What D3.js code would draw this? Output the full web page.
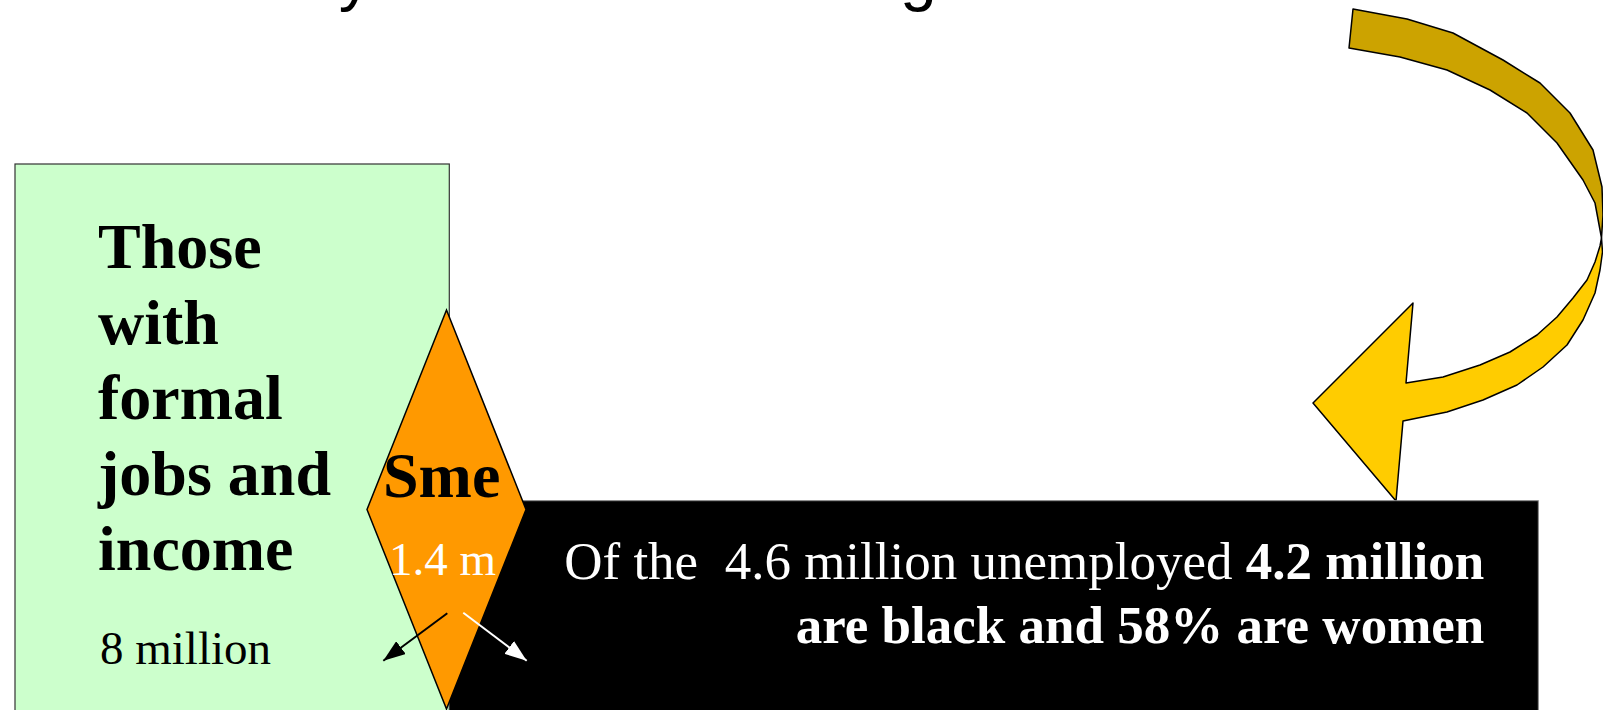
<!DOCTYPE html>
<html>
<head>
<meta charset="utf-8">
<script src="https://cdn.jsdelivr.net/npm/d3@7"></script>
<style>
  body { margin: 0; background: #fff; overflow: hidden; }
  text { white-space: pre; }
</style>
</head>
<body>
<svg width="1603" height="710"></svg>
<script>
// texts of the slide
const titleText = "Who really benefits from the growth in SA";
const formalLines = ["Those", "with", "formal", "jobs and", "income"];
const formalValue = "8 million";
const smeLabel = "Sme";
const smeValue = "1.4 m";
const unemployedLine1 = ["Of the  4.6 million unemployed ", "4.2 million"];
const unemployedLine2 = "are black and 58% are women";

// outline of the curved arrow (twisted ribbon), top half and lower half with head
const arrowTop = [
  [1353, 9], [1407, 19], [1453, 33], [1503, 60], [1540, 83], [1570, 113],
  [1593, 150], [1602, 187], [1603, 215], [1601.5, 238],
  [1595, 203], [1583, 180], [1557, 143], [1527, 113], [1490, 90],
  [1447, 70], [1400, 57], [1349, 48]
];
const arrowLow = [
  [1601.5, 238], [1602.5, 252], [1600, 270], [1595, 293], [1583, 320],
  [1567, 345], [1543, 367], [1517, 385], [1483, 400], [1447, 412],
  [1403, 421], [1396, 501], [1313, 403], [1413, 303], [1406, 383],
  [1443, 377], [1480, 365], [1510, 352], [1537, 335], [1557, 317],
  [1573, 298], [1587, 280], [1595, 262], [1600, 246]
];

const svg = d3.select("svg");
const width = +svg.attr("width");
const height = +svg.attr("height");

const serif = "'Liberation Serif', 'Times New Roman', serif";

// title (only its descenders show at the top edge)
svg.append("text")
  .attr("x", 60)
  .attr("y", -2)
  .attr("font-family", "'Liberation Sans', Arial, sans-serif")
  .attr("font-size", 66)
  .attr("fill", "#000")
  .text(titleText);

// curved arrow
const line = d3.line().curve(d3.curveLinearClosed);
svg.append("path")
  .attr("d", line(arrowTop))
  .attr("fill", "#CCA300")
  .attr("stroke", "#000")
  .attr("stroke-width", 1.5)
  .attr("stroke-linejoin", "round");
svg.append("path")
  .attr("d", line(arrowLow))
  .attr("fill", "#FFCC00")
  .attr("stroke", "#000")
  .attr("stroke-width", 1.5)
  .attr("stroke-linejoin", "round");

// boxes
svg.append("rect")
  .attr("x", 449.3).attr("y", 500.7)
  .attr("width", 1538.3 - 449.3).attr("height", height)
  .attr("fill", "#000")
  .attr("stroke", "#888")
  .attr("stroke-width", 1);

svg.append("rect")
  .attr("x", 15).attr("y", 164)
  .attr("width", 449.3 - 15).attr("height", height)
  .attr("fill", "#CCFFCC")
  .attr("stroke", "#333")
  .attr("stroke-width", 1.2);

// diamond
const dx = 446.5, dTop = 310, dMid = 509.5, dBot = 709, dHalf = 79.5;
svg.append("path")
  .attr("d", line([[dx, dTop], [dx + dHalf, dMid], [dx, dBot], [dx - dHalf, dMid]]))
  .attr("fill", "#FF9900")
  .attr("stroke", "#000")
  .attr("stroke-width", 1.5);

// text in green box
const yLine = d3.scaleLinear().domain([0, formalLines.length - 1]).range([268, 570]);
svg.append("g")
  .selectAll("text")
  .data(formalLines)
  .join("text")
  .attr("x", 98)
  .attr("y", (d, i) => yLine(i))
  .attr("font-family", serif)
  .attr("font-weight", "bold")
  .attr("font-size", 64)
  .attr("fill", "#000")
  .text(d => d);

svg.append("text")
  .attr("x", 100).attr("y", 664)
  .attr("font-family", serif)
  .attr("font-size", 47)
  .attr("fill", "#000")
  .text(formalValue);

// text in diamond
svg.append("text")
  .attr("x", 383).attr("y", 497)
  .attr("font-family", serif)
  .attr("font-weight", "bold")
  .attr("font-size", 64)
  .attr("fill", "#000")
  .text(smeLabel);

svg.append("text")
  .attr("x", 389).attr("y", 575)
  .attr("font-family", serif)
  .attr("font-size", 47)
  .attr("fill", "#fff")
  .text(smeValue);

// text in black box
const t1 = svg.append("text")
  .attr("x", 1484.3).attr("y", 579.3)
  .attr("text-anchor", "end")
  .attr("font-family", serif)
  .attr("font-size", 53)
  .attr("fill", "#fff");
t1.append("tspan").text(unemployedLine1[0]);
t1.append("tspan").attr("font-weight", "bold").text(unemployedLine1[1]);

svg.append("text")
  .attr("x", 1484.3).attr("y", 643.3)
  .attr("text-anchor", "end")
  .attr("font-family", serif)
  .attr("font-weight", "bold")
  .attr("font-size", 53)
  .attr("fill", "#fff")
  .text(unemployedLine2);

// small arrows out of the diamond
const defs = svg.append("defs");
[["headBlack", "#000"], ["headWhite", "#fff"]].forEach(([id, c]) => {
  defs.append("marker")
    .attr("id", id)
    .attr("viewBox", "0 -8 22 16")
    .attr("refX", 22).attr("refY", 0)
    .attr("markerWidth", 22).attr("markerHeight", 16)
    .attr("markerUnits", "userSpaceOnUse")
    .attr("orient", "auto")
    .append("path")
    .attr("d", "M0,-8L22,0L0,8Z")
    .attr("fill", c);
});

svg.append("line")
  .attr("x1", 447.3).attr("y1", 613.3)
  .attr("x2", 383.3).attr("y2", 660.7)
  .attr("stroke", "#000").attr("stroke-width", 2)
  .attr("marker-end", "url(#headBlack)");

svg.append("line")
  .attr("x1", 463.3).attr("y1", 612.7)
  .attr("x2", 526.7).attr("y2", 660.7)
  .attr("stroke", "#fff").attr("stroke-width", 2)
  .attr("marker-end", "url(#headWhite)");
</script>
</body>
</html>
